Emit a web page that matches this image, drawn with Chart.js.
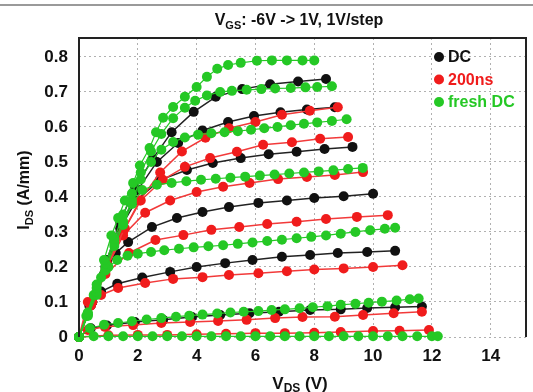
<!DOCTYPE html>
<html>
<head>
<meta charset="utf-8">
<script src="https://cdn.jsdelivr.net/npm/chart.js@4.4.0/dist/chart.umd.min.js"></script>
<style>
  html, body { margin: 0; padding: 0; background: #fff; }
  #wrap { width: 533px; height: 392px; }
</style>
</head>
<body>
<div id="wrap"><canvas id="ivChart" width="533" height="392"></canvas></div>
<script>
// tick labels
const xTicks = [0, 2, 4, 6, 8, 10, 12, 14];
const yTicks = [0, 0.1, 0.2, 0.3, 0.4, 0.5, 0.6, 0.7, 0.8];

const seriesNames = ["DC", "200ns", "fresh DC"];

// IDS-VDS curves, one list of [VDS, IDS] per VGS step (1V down to -6V)
const dcCurves = [
  [[0,0],[0.45,0.1],[0.95,0.22],[1.4,0.33],[1.9,0.426],[2.5,0.508],[3.15,0.585],[3.9,0.643],[4.65,0.686],[5.55,0.708],[6.5,0.722],[7.45,0.73],[8.4,0.737]],
  [[0,0],[0.45,0.1],[0.95,0.21],[1.45,0.32],[2.0,0.42],[2.65,0.5],[3.37,0.554],[4.2,0.59],[5.07,0.614],[5.95,0.631],[6.85,0.642],[7.75,0.65],[8.7,0.656]],
  [[0,0],[0.45,0.1],[0.9,0.2],[1.4,0.31],[1.95,0.39],[2.75,0.448],[3.67,0.477],[4.55,0.497],[5.5,0.511],[6.45,0.522],[7.4,0.529],[8.35,0.537],[9.3,0.543]],
  [[0,0],[0.4,0.09],[0.85,0.18],[1.25,0.24],[1.67,0.271],[2.48,0.314],[3.33,0.34],[4.2,0.357],[5.1,0.371],[6.1,0.383],[7.07,0.39],[8.0,0.397],[9.0,0.402],[10.0,0.409]],
  [[0,0],[0.35,0.09],[0.75,0.13],[1.3,0.152],[2.15,0.17],[3.1,0.186],[4.0,0.2],[4.97,0.211],[5.9,0.22],[6.9,0.229],[7.86,0.234],[8.8,0.24],[9.8,0.243],[10.75,0.246]],
  [[0,0],[0.4,0.025],[0.95,0.033],[1.9,0.043],[2.86,0.049],[3.84,0.057],[4.8,0.063],[5.8,0.068],[6.8,0.072],[7.86,0.077],[8.9,0.079],[9.8,0.083],[10.75,0.085],[11.66,0.087]]
];

const pulsedCurves = [
  [[0,0],[0.45,0.1],[0.95,0.21],[1.56,0.31],[2.07,0.39],[2.76,0.47],[3.5,0.53],[4.3,0.569],[5.1,0.596],[6.0,0.614],[6.9,0.635],[7.85,0.646],[8.8,0.656]],
  [[0,0],[0.45,0.1],[0.95,0.2],[1.5,0.3],[2.1,0.39],[2.85,0.449],[3.6,0.486],[4.46,0.511],[5.37,0.529],[6.26,0.549],[7.24,0.556],[8.2,0.566],[9.15,0.571]],
  [[0,0],[0.4,0.09],[0.9,0.19],[1.5,0.29],[2.25,0.355],[3.1,0.39],[4.0,0.414],[4.9,0.429],[5.8,0.44],[6.77,0.451],[7.75,0.457],[8.7,0.463],[9.66,0.471]],
  [[0,0],[0.4,0.09],[0.9,0.18],[1.7,0.24],[2.6,0.277],[3.55,0.291],[4.5,0.306],[5.45,0.314],[6.4,0.323],[7.4,0.329],[8.4,0.337],[9.45,0.343],[10.5,0.348]],
  [[0,0],[0.3,0.1],[0.75,0.12],[1.33,0.14],[2.25,0.154],[3.2,0.166],[4.2,0.171],[5.1,0.177],[6.1,0.182],[7.07,0.188],[8.0,0.193],[9.0,0.196],[10.0,0.2],[11.0,0.205]],
  [[0,0],[0.3,0.02],[0.88,0.029],[1.84,0.034],[2.8,0.04],[3.78,0.043],[4.73,0.046],[5.7,0.049],[6.67,0.054],[7.6,0.057],[8.7,0.058],[9.66,0.063],[10.7,0.068],[11.66,0.072]],
  [[0,0],[1.0,0.005],[2.0,0.006],[3.0,0.006],[4.0,0.008],[5.0,0.009],[6.0,0.011],[7.0,0.011],[8.0,0.012],[8.9,0.014],[10.0,0.017],[10.9,0.018],[11.9,0.02]]
];

const freshCurves = [
  [[0,0],[0.3,0.07],[0.6,0.15],[0.85,0.22],[1.1,0.29],[1.33,0.34],[1.56,0.39],[1.84,0.44],[2.07,0.49],[2.4,0.54],[2.62,0.585],[2.86,0.626],[3.2,0.657],[3.6,0.686],[4.0,0.714],[4.35,0.743],[4.7,0.766],[5.07,0.777],[5.5,0.783],[6.05,0.789],[6.56,0.79],[7.07,0.79],[7.6,0.79],[8.0,0.79]],
  [[0,0],[0.3,0.065],[0.6,0.14],[0.9,0.21],[1.2,0.28],[1.5,0.35],[1.8,0.41],[2.1,0.47],[2.45,0.53],[2.8,0.58],[3.2,0.625],[3.6,0.655],[3.95,0.675],[4.35,0.69],[4.8,0.7],[5.2,0.703],[5.7,0.706],[6.2,0.708],[6.67,0.71],[7.2,0.711],[7.7,0.713],[8.1,0.714],[8.6,0.716]],
  [[0,0],[0.3,0.065],[0.6,0.13],[0.9,0.2],[1.2,0.27],[1.5,0.33],[1.8,0.39],[2.1,0.45],[2.45,0.5],[2.8,0.535],[3.2,0.557],[3.6,0.57],[4.05,0.578],[4.5,0.582],[4.95,0.585],[5.4,0.588],[5.85,0.592],[6.3,0.596],[6.75,0.6],[7.2,0.605],[7.65,0.609],[8.1,0.613],[8.6,0.617],[9.1,0.622]],
  [[0,0],[0.3,0.06],[0.6,0.12],[0.9,0.19],[1.2,0.26],[1.5,0.32],[1.8,0.38],[2.15,0.42],[2.65,0.435],[3.15,0.44],[3.65,0.445],[4.15,0.449],[4.65,0.452],[5.15,0.455],[5.65,0.458],[6.15,0.461],[6.65,0.464],[7.15,0.467],[7.65,0.47],[8.15,0.473],[8.65,0.476],[9.15,0.48],[9.65,0.483]],
  [[0,0],[0.25,0.06],[0.5,0.12],[0.75,0.17],[1.0,0.2],[1.3,0.22],[1.65,0.232],[2.0,0.238],[2.45,0.243],[2.9,0.248],[3.4,0.252],[3.9,0.256],[4.4,0.259],[4.9,0.262],[5.4,0.266],[5.9,0.27],[6.4,0.274],[6.9,0.278],[7.4,0.282],[7.9,0.286],[8.4,0.29],[8.9,0.295],[9.4,0.3],[9.9,0.305],[10.4,0.309],[10.75,0.312]],
  [[0,0],[0.37,0.025],[0.85,0.035],[1.33,0.04],[1.8,0.045],[2.3,0.05],[2.8,0.054],[3.3,0.058],[3.75,0.061],[4.2,0.064],[4.7,0.067],[5.15,0.07],[5.6,0.072],[6.1,0.074],[6.55,0.077],[7.0,0.079],[7.5,0.082],[7.95,0.085],[8.45,0.088],[8.9,0.092],[9.4,0.095],[9.85,0.098],[10.3,0.101],[10.8,0.104],[11.25,0.108],[11.55,0.11]],
  [[0,0],[0.5,0.002],[1.0,0.002],[1.5,0.002],[2.0,0.002],[2.5,0.002],[3.0,0.002],[3.5,0.002],[4.0,0.002],[4.5,0.002],[5.0,0.002],[5.5,0.002],[6.0,0.002],[6.5,0.002],[7.0,0.002],[7.5,0.002],[8.0,0.002],[8.5,0.002],[9.0,0.002],[9.5,0.002],[10.0,0.002],[10.5,0.002],[11.0,0.002],[11.5,0.002],[12.0,0.002],[12.2,0.002]]
];

const BLACK = "#111111";
const RED = "#f01c1c";
const GREEN = "#25c825";
const FONT = "'Liberation Sans', Arial, sans-serif";

function makeSets(curves, name, color, lineColor, order, radius, lw) {
  return curves.map((pts, i) => ({
    label: name,
    data: pts.map(p => ({ x: p[0], y: p[1] })),
    showLine: true,
    borderColor: lineColor,
    borderWidth: lw,
    backgroundColor: color,
    pointBackgroundColor: color,
    pointBorderColor: color,
    pointBorderWidth: 0,
    pointRadius: radius,
    order: order,
    clip: false,
    tension: 0
  }));
}

// text with subscript pieces, centred on (cx, cy)
function drawSubText(ctx, parts, cx, cy, size, color) {
  const subSize = Math.round(size * 0.68);
  let total = 0;
  parts.forEach(p => {
    ctx.font = "bold " + (p.sub ? subSize : size) + "px " + FONT;
    total += ctx.measureText(p.t).width;
  });
  let x = cx - total / 2;
  ctx.fillStyle = color;
  ctx.textBaseline = "middle";
  ctx.textAlign = "left";
  parts.forEach(p => {
    ctx.font = "bold " + (p.sub ? subSize : size) + "px " + FONT;
    ctx.fillText(p.t, x, p.sub ? cy + size * 0.3 : cy);
    x += ctx.measureText(p.t).width;
  });
}

const decorations = {
  id: "decorations",
  afterDraw(chart) {
    const ctx = chart.ctx;
    const a = chart.chartArea;
    ctx.save();

    // scan border line at the very top
    ctx.strokeStyle = "#9a9a9a";
    ctx.lineWidth = 2;
    ctx.beginPath();
    ctx.moveTo(0, 5);
    ctx.lineTo(chart.width, 5);
    ctx.stroke();

    // plot frame (left, top, right)
    ctx.strokeStyle = "#222";
    ctx.lineWidth = 2;
    ctx.beginPath();
    ctx.moveTo(a.left, a.bottom);
    ctx.lineTo(a.left, a.top);
    ctx.lineTo(a.right, a.top);
    ctx.lineTo(a.right, a.bottom);
    ctx.stroke();

    drawSubText(ctx, [{ t: "V" }, { t: "GS", sub: true }, { t: ": -6V -> 1V, 1V/step" }], 299, 21, 16, "#111");
    drawSubText(ctx, [{ t: "V" }, { t: "DS", sub: true }, { t: " (V)" }], 300, 384, 17, "#111");

    ctx.save();
    ctx.translate(25, 190);
    ctx.rotate(-Math.PI / 2);
    drawSubText(ctx, [{ t: "I" }, { t: "DS", sub: true }, { t: " (A/mm)" }], 0, 0, 16, "#111");
    ctx.restore();

    // legend inside the plot, top right
    const colors = [BLACK, RED, GREEN];
    seriesNames.forEach((name, i) => {
      const y = 57 + i * 22.5;
      ctx.fillStyle = colors[i];
      ctx.beginPath();
      ctx.arc(439, y, 5, 0, Math.PI * 2);
      ctx.fill();
      ctx.font = "bold 16px " + FONT;
      ctx.textBaseline = "middle";
      ctx.textAlign = "left";
      ctx.fillText(name, 448, y + 1);
    });
    ctx.restore();
  }
};

const datasets = [
  ...makeSets(freshCurves, seriesNames[2], GREEN, GREEN, 0, 5, 1.2),
  ...makeSets(pulsedCurves, seriesNames[1], RED, "#f23a3a", 1, 5, 1.5),
  ...makeSets(dcCurves, seriesNames[0], BLACK, "#222", 2, 5, 1.5)
];

new Chart(document.getElementById("ivChart"), {
  type: "scatter",
  data: { datasets },
  plugins: [decorations],
  options: {
    responsive: false,
    animation: false,
    events: [],
    layout: { padding: { top: 38, right: 7, left: 0, bottom: 0 } },
    plugins: {
      legend: { display: false },
      tooltip: { enabled: false },
      title: { display: false }
    },
    scales: {
      x: {
        type: "linear",
        min: 0,
        max: 15.2,
        afterFit: s => { s.height = 55; },
        afterBuildTicks: s => { s.ticks = xTicks.map(v => ({ value: v })); },
        ticks: {
          padding: 9,
          color: "#111",
          font: { family: FONT, size: 17, weight: "bold" },
          callback: v => String(v)
        },
        grid: { color: "#b0b0b0", lineWidth: 1, drawTicks: false },
        border: { display: false, dash: [2, 3] }
      },
      y: {
        min: 0,
        max: 0.854,
        afterFit: s => { s.width = 79; },
        afterBuildTicks: s => { s.ticks = yTicks.map(v => ({ value: v })); },
        ticks: {
          padding: 11,
          color: "#111",
          font: { family: FONT, size: 17, weight: "bold" },
          callback: v => String(v)
        },
        grid: { color: "#b0b0b0", lineWidth: 1, drawTicks: false },
        border: { display: false, dash: [2, 3] }
      }
    }
  }
});
</script>
</body>
</html>
